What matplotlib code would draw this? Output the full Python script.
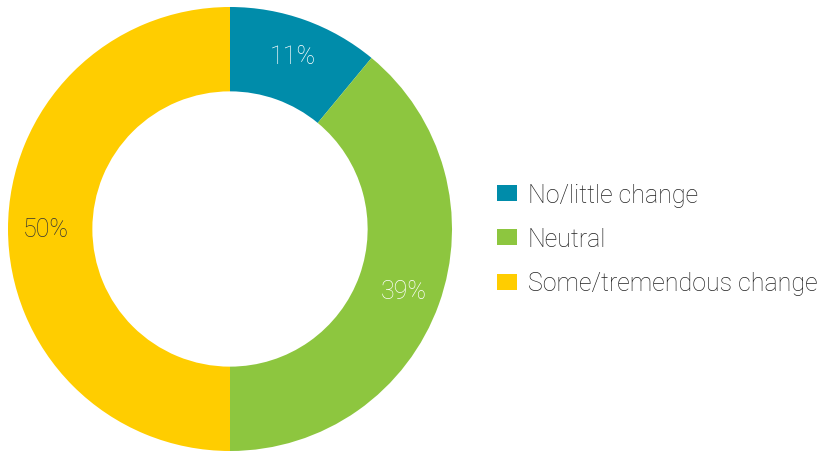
import matplotlib
matplotlib.use("Agg")
import matplotlib.pyplot as plt
from matplotlib.patches import Patch

categories = ["No/little change", "Neutral", "Some/tremendous change"]
values = [11, 39, 50]
colors = ["#008CAA", "#8DC63F", "#FFCD00"]
label_colors = ["white", "white", "#333333"]

plt.rcParams['font.family'] = ['Roboto', 'DejaVu Sans']

fig = plt.figure(figsize=(8.24, 4.52), dpi=100)
ax = fig.add_axes([8/824, 0/452, 444/824, 444/452])

wedges, texts, autotexts = ax.pie(
    values, colors=colors, startangle=90, counterclock=False,
    radius=1.0, wedgeprops=dict(width=0.38, edgecolor='none'),
    autopct=lambda p: f"{p:.0f}%", pctdistance=0.83,
    textprops=dict(fontsize=18, fontweight='light'))
for t, c in zip(autotexts, label_colors):
    t.set_color(c)
ax.set_xlim(-1, 1)
ax.set_ylim(-1, 1)
ax.set_aspect('equal')
ax.axis('off')

handles = [Patch(facecolor=c, edgecolor='none') for c in colors]
fig.legend(handles, categories, loc='center left',
           bbox_to_anchor=(474/824, 1 - 240/452), frameon=False,
           labelcolor='#222222', handlelength=0.8,
           handleheight=0.6, handletextpad=0.45, labelspacing=0.82,
           prop=dict(size=18, weight='light'))

fig.savefig("out.png", dpi=100)
